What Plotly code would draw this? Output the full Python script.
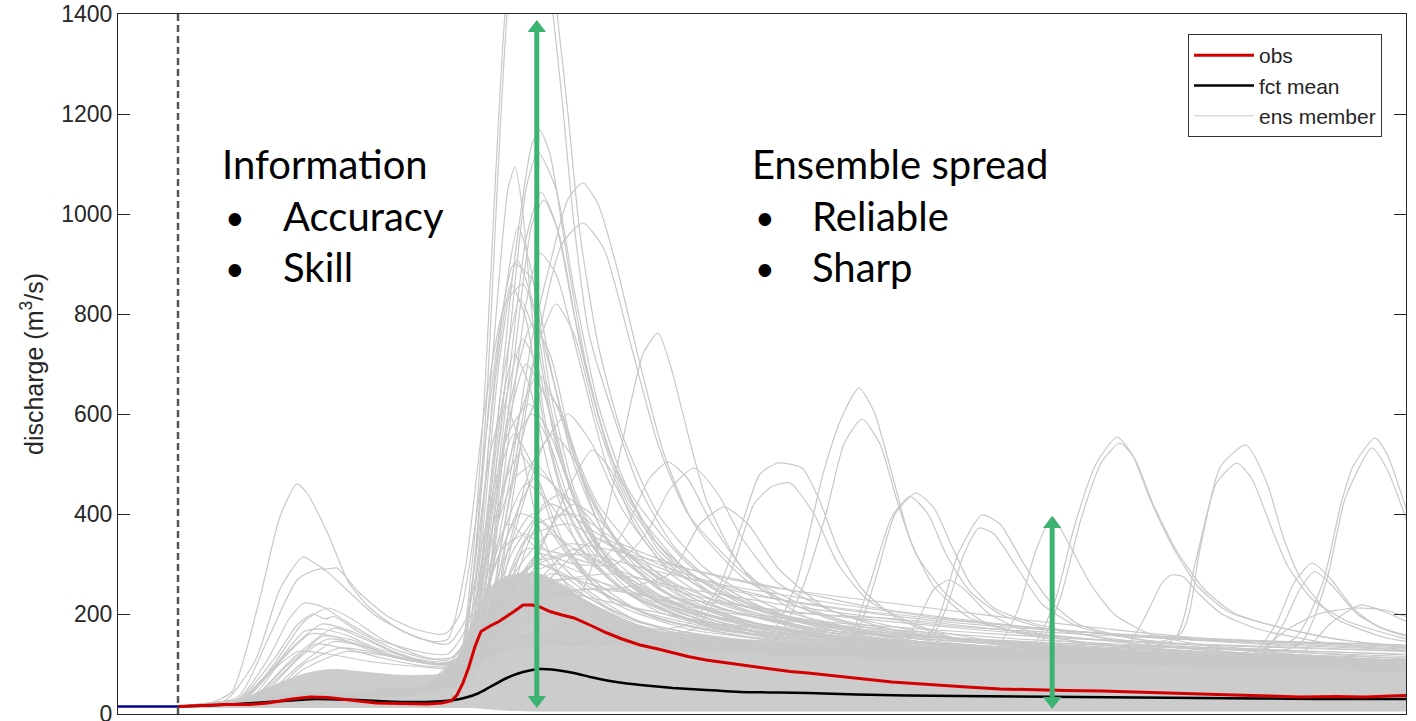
import plotly.graph_objects as go

# ---------------- data (lead time in days, discharge in m3/s) ----------------
forecast_start = 1.0
x_range = [0.0, 21.467]
y_ticks = [0, 200, 400, 600, 800, 1000, 1200, 1400]

hist_t = [0.0, 1.0]
hist_q = [15, 15]

obs_t = [1.0, 1.5, 1.8, 2.2, 2.5, 2.9, 3.2, 3.5, 3.75, 4.0, 4.3, 4.7, 5.15, 5.4, 5.55, 5.65,
         5.75, 5.85, 5.95, 6.05, 6.2, 6.35, 6.5, 6.6, 6.75, 6.9, 7.03, 7.2, 7.4, 7.6, 7.9,
         8.15, 8.4, 8.7, 9.0, 9.25, 9.5, 9.8, 10.1, 10.4, 10.7, 10.95, 11.2, 11.5, 11.8,
         12.05, 12.3, 12.6, 12.9, 13.15, 13.6, 14.15, 14.7, 15.25, 15.8, 16.4, 16.9, 17.5,
         18.0, 18.6, 19.2, 19.7, 20.3, 20.8, 21.2, 21.47]
obs_q = [15, 17, 19, 19, 22, 30, 34, 33, 30, 27, 22, 21, 20, 22, 26, 38,
         62, 95, 135, 165, 176, 185, 196, 205, 218, 218, 214, 205, 198, 192, 176,
         162, 150, 138, 130, 122, 115, 108, 103, 98, 92, 88, 85, 82, 78,
         74, 71, 68, 64, 62, 58, 54, 50, 48, 47, 46, 44, 41,
         39, 38, 36, 34, 35, 34, 36, 37]

mean_t = [1.0, 1.5, 2.0, 2.5, 3.0, 3.3, 3.7, 4.0, 4.5, 4.9, 5.3, 5.6, 5.8, 6.0, 6.2, 6.48,
          6.75, 7.03, 7.3, 7.6, 7.87, 8.15, 8.42, 8.8, 9.25, 9.8, 10.37, 11.0, 11.5, 12.3,
          13.15, 14.0, 15.0, 16.0, 17.0, 18.0, 19.0, 20.0, 21.0, 21.47]
mean_q = [15, 17, 20, 24, 28, 30, 29, 28, 25, 24, 25, 28, 33, 41, 54, 72,
          84, 90, 88, 82, 74, 67, 62, 57, 52, 48, 44, 43, 42, 39,
          37, 36, 35, 34, 33, 32, 31, 30, 30, 30]

# dense core of the ensemble (where the members overlap completely)
core_t = [1.0, 1.5, 2.0, 2.4, 2.8, 3.2, 3.6, 4.0, 4.5, 5.0, 5.5, 5.7, 5.9, 6.1, 6.3, 6.6,
          7.0, 7.4, 7.8, 8.3, 8.8, 9.5, 10.2, 11.0, 12.0, 13.0, 14.0, 15.0, 16.0, 17.0,
          18.0, 19.0, 20.0, 21.0, 21.47]
core_low = [13, 12, 12, 12, 12, 12, 12, 12, 12, 12, 12, 12, 12, 10, 8, 6,
            5, 5, 5, 5, 5, 5, 5, 5, 5, 5, 5, 5, 5, 5,
            5, 5, 5, 5, 5]
core_high = [16, 20, 28, 48, 68, 84, 90, 86, 80, 78, 86, 125, 185, 235, 265, 280,
             280, 258, 228, 198, 172, 160, 152, 146, 138, 132, 126, 122, 118, 116,
             114, 112, 110, 110, 110]

# individual ensemble members: (lead time, discharge) keypoints
first_bump_members = [
    [(1, 15), (1.5, 20), (1.9, 45), (2.35, 225), (2.7, 395), (2.98, 460), (3.15, 442), (3.5, 360),
     (3.85, 262), (4.2, 212), (4.7, 168), (5.25, 145), (5.5, 150), (5.8, 300), (6.1, 600),
     (6.45, 820), (6.75, 860), (7.05, 760), (7.5, 560), (8.0, 420), (9.0, 280), (10.0, 215),
     (12.0, 155), (14.0, 125), (17.0, 105), (21.47, 88)],
    [(1, 15), (1.8, 28), (2.3, 110), (2.7, 250), (3.08, 314), (3.3, 300), (3.45, 290), (3.65, 292),
     (4.0, 245), (4.5, 195), (5.0, 168), (5.45, 160), (5.7, 200), (6.0, 420), (6.3, 720),
     (6.6, 900), (6.9, 870), (7.2, 700), (7.6, 500), (8.2, 340), (9.2, 240), (10.5, 185),
     (13, 140), (16, 115), (21.47, 92)],
    [(1, 15), (2, 34), (2.5, 150), (3.0, 270), (3.4, 290), (3.8, 250), (4.3, 196), (5.0, 152),
     (5.5, 140), (5.8, 190), (6.1, 360), (6.5, 560), (6.85, 620), (7.2, 560), (7.7, 400),
     (8.3, 290), (9.5, 210), (11, 165), (14, 130), (21.47, 95)],
    [(1, 15), (2, 30), (2.5, 110), (2.85, 190), (3.1, 222), (3.4, 215), (3.8, 185), (4.3, 150),
     (5.0, 125), (5.5, 120), (5.8, 170), (6.2, 330), (6.6, 470), (6.95, 500), (7.3, 450),
     (7.8, 340), (8.5, 250), (9.5, 190), (11, 150), (14, 120), (21.47, 90)],
    [(1, 15), (2.1, 30), (2.6, 100), (3.1, 185), (3.5, 212), (3.9, 190), (4.4, 150), (5.0, 118),
     (5.5, 108), (5.9, 160), (6.3, 300), (6.7, 400), (7.1, 380), (7.6, 300), (8.3, 220),
     (9.5, 170), (12, 135), (21.47, 88)],
    [(1, 15), (2.0, 28), (2.6, 110), (3.0, 180), (3.25, 200), (3.45, 190), (3.6, 195), (4.0, 165),
     (4.6, 130), (5.2, 110), (5.6, 115), (6.0, 200), (6.4, 330), (6.8, 360), (7.2, 320),
     (7.8, 250), (8.6, 190), (10, 150), (13, 120), (21.47, 85)],
    [(1, 15), (2.2, 30), (2.8, 120), (3.4, 180), (3.9, 165), (4.5, 130), (5.1, 105), (5.6, 100),
     (6.0, 150), (6.5, 260), (7.0, 300), (7.5, 270), (8.2, 210), (9.2, 165), (11, 135),
     (15, 110), (21.47, 85)],
    [(1, 15), (2.2, 28), (2.9, 110), (3.6, 172), (4.1, 150), (4.7, 118), (5.3, 100), (5.7, 105),
     (6.1, 170), (6.6, 230), (7.1, 240), (7.7, 205), (8.5, 170), (10, 135), (13, 115), (21.47, 85)],
    [(1, 15), (2.1, 28), (2.7, 105), (3.2, 160), (3.6, 155), (4.2, 128), (4.8, 108), (5.4, 98),
     (5.8, 110), (6.2, 190), (6.7, 270), (7.3, 260), (8.0, 210), (9, 165), (11, 135), (21.47, 90)],
    [(1, 15), (2.3, 28), (3.0, 110), (3.5, 150), (4.0, 140), (4.6, 115), (5.2, 100), (5.6, 100),
     (6.0, 140), (6.5, 200), (7.0, 215), (7.6, 190), (8.5, 155), (10, 130), (21.47, 90)],
    [(1, 15), (2.2, 26), (2.8, 95), (3.3, 140), (3.8, 130), (4.4, 112), (5.0, 98), (5.6, 95),
     (6.0, 120), (6.6, 180), (7.2, 190), (8, 160), (10, 125), (21.47, 88)],
    [(1, 15), (2.4, 26), (3.1, 100), (3.7, 132), (4.2, 125), (4.8, 108), (5.4, 100), (5.8, 115),
     (6.3, 170), (7.0, 200), (7.7, 180), (9, 140), (21.47, 90)],
    [(1, 15), (2.0, 24), (2.6, 90), (3.0, 125), (3.5, 120), (4.2, 105), (5.0, 95), (5.6, 92),
     (6.0, 130), (6.6, 210), (7.2, 230), (8.0, 190), (9.5, 150), (21.47, 92)],
    [(1, 15), (2.2, 25), (2.9, 100), (3.4, 155), (3.9, 148), (4.5, 120), (5.1, 105), (5.6, 100),
     (6.0, 140), (6.6, 220), (7.3, 240), (8.2, 190), (10, 140), (21.47, 90)],
    [(1, 15), (2.3, 24), (3.0, 95), (3.6, 145), (4.1, 135), (4.7, 112), (5.3, 100), (5.7, 108),
     (6.2, 170), (6.9, 250), (7.6, 235), (8.6, 180), (11, 135), (21.47, 88)],
    [(1, 15), (2.0, 26), (2.6, 95), (3.1, 165), (3.4, 170), (3.8, 158), (4.3, 132), (4.9, 112),
     (5.5, 104), (5.9, 130), (6.4, 240), (7.0, 280), (7.7, 240), (8.8, 180), (11, 140), (21.47, 92)],
    [(1, 15), (2.4, 25), (3.1, 90), (3.8, 125), (4.4, 118), (5.0, 105), (5.6, 100), (6.0, 125),
     (6.6, 190), (7.3, 200), (8.3, 170), (10, 135), (21.47, 90)],
]

main_peak_members = [
    [(1, 15), (3, 40), (5, 55), (5.6, 70), (5.9, 300), (6.1, 620), (6.45, 1400), (6.8, 1750),
     (7.05, 1600), (7.25, 1400), (7.4, 1230), (7.6, 980), (7.85, 760), (8.25, 600), (8.7, 450),
     (9.3, 330), (10.2, 240), (12, 165), (15, 120), (21.47, 92)],
    [(1, 15), (3, 35), (5, 50), (5.65, 70), (5.95, 320), (6.15, 640), (6.5, 1420), (6.85, 1700),
     (7.1, 1600), (7.32, 1400), (7.5, 1200), (7.7, 960), (8.0, 740), (8.4, 560), (9.0, 400),
     (9.8, 290), (11, 210), (13, 155), (16, 120), (21.47, 95)],
    [(1, 15), (3, 38), (5, 48), (5.7, 80), (6.0, 250), (6.3, 550), (6.6, 900), (6.9, 1140),
     (7.03, 1168), (7.2, 1120), (7.5, 900), (7.8, 700), (8.2, 520), (9.0, 330), (10, 235),
     (12, 165), (15, 122), (21.47, 92)],
    [(1, 15), (3, 36), (5, 45), (5.75, 70), (6.0, 200), (6.4, 600), (6.8, 1050), (7.0, 1124),
     (7.3, 1050), (7.6, 850), (8.0, 620), (8.5, 450), (9.5, 300), (11, 200), (14, 135), (21.47, 95)],
    [(1, 15), (3, 40), (5, 50), (5.6, 60), (5.9, 250), (6.2, 650), (6.5, 1050), (6.62, 1094),
     (6.75, 1000), (6.9, 800), (7.1, 600), (7.4, 450), (8, 320), (9, 235), (10, 185), (13, 135),
     (21.47, 95)],
    [(1, 15), (3, 35), (5, 45), (5.8, 80), (6.0, 150), (6.5, 450), (6.9, 750), (7.2, 900),
     (7.5, 1030), (7.75, 1062), (8.0, 1020), (8.3, 900), (8.7, 700), (9.1, 520), (9.6, 380),
     (10.5, 265), (12, 185), (15, 135), (21.47, 98)],
    [(1, 15), (3, 33), (5, 42), (5.9, 70), (6.2, 150), (6.6, 450), (7.0, 750), (7.4, 940),
     (7.75, 982), (8.1, 930), (8.5, 760), (9.0, 540), (9.5, 400), (10.5, 275), (12, 190),
     (15, 138), (21.47, 100)],
    [(1, 15), (3, 36), (5, 46), (5.7, 70), (6.0, 200), (6.4, 550), (6.8, 950), (7.05, 1044),
     (7.3, 980), (7.6, 800), (8.0, 600), (8.5, 430), (9.5, 285), (11, 195), (14, 135), (21.47, 95)],
    [(1, 15), (3, 34), (5, 44), (5.8, 70), (6.1, 200), (6.5, 600), (6.9, 980), (7.1, 1028),
     (7.35, 960), (7.7, 740), (8.2, 520), (9, 340), (10, 245), (12, 170), (21.47, 92)],
    [(1, 15), (3, 40), (5, 52), (5.7, 80), (6.0, 300), (6.3, 700), (6.67, 974), (6.9, 880),
     (7.2, 650), (7.6, 450), (8.2, 300), (9, 225), (11, 155), (21.47, 90)],
    [(1, 15), (3, 35), (5, 45), (6.0, 150), (6.4, 450), (6.8, 820), (7.03, 922), (7.3, 880),
     (7.7, 700), (8.2, 480), (9, 320), (10, 230), (12, 160), (21.47, 90)],
    [(1, 15), (3, 38), (5, 50), (5.75, 90), (6.05, 330), (6.35, 700), (6.65, 908), (6.9, 830),
     (7.2, 620), (7.6, 430), (8.2, 290), (9.2, 210), (11, 150), (21.47, 88)],
    [(1, 15), (3, 36), (5, 48), (5.7, 85), (6.0, 320), (6.3, 680), (6.55, 860), (6.8, 790),
     (7.1, 580), (7.5, 400), (8.1, 280), (9, 205), (11, 150), (21.47, 88)],
    [(1, 15), (3, 35), (5, 46), (5.8, 80), (6.1, 250), (6.5, 600), (6.9, 780), (7.2, 720),
     (7.6, 520), (8.1, 360), (9, 250), (10.5, 180), (13, 135), (21.47, 92)],
    [(1, 15), (3, 34), (5, 45), (5.8, 90), (6.1, 320), (6.4, 620), (6.6, 720), (6.85, 660),
     (7.2, 480), (7.7, 330), (8.5, 240), (10, 170), (21.47, 90)],
    [(1, 15), (3, 33), (5, 44), (5.9, 100), (6.2, 330), (6.5, 580), (6.8, 700), (7.1, 640),
     (7.5, 470), (8.0, 340), (9.0, 240), (10.5, 175), (14, 125), (21.47, 92)],
    [(1, 15), (3, 32), (5, 42), (6.0, 110), (6.4, 350), (6.8, 580), (7.1, 650), (7.4, 600),
     (7.8, 460), (8.4, 330), (9.5, 230), (11, 170), (15, 125), (21.47, 95)],
    [(1, 15), (3, 34), (5, 45), (5.9, 100), (6.3, 380), (6.6, 540), (6.9, 600), (7.2, 540),
     (7.6, 400), (8.2, 290), (9.2, 210), (11, 155), (21.47, 90)],
    [(1, 15), (3, 32), (5, 42), (6.0, 100), (6.5, 330), (6.9, 500), (7.25, 560), (7.6, 510),
     (8.0, 400), (8.6, 300), (9.6, 220), (11.5, 160), (21.47, 92)],
    [(1, 15), (3, 36), (5, 48), (5.8, 100), (6.2, 350), (6.5, 480), (6.7, 520), (7.0, 470),
     (7.4, 350), (8.0, 250), (9, 190), (11, 145), (21.47, 88)],
    [(1, 15), (3, 33), (5, 44), (6.0, 110), (6.5, 360), (7.0, 480), (7.4, 440), (7.9, 340),
     (8.6, 250), (9.8, 185), (12, 145), (21.47, 92)],
    [(1, 15), (3, 32), (5, 42), (6.1, 110), (6.7, 320), (7.1, 420), (7.4, 440), (7.8, 400),
     (8.4, 310), (9.3, 230), (10.8, 175), (14, 135), (21.47, 100)],
    [(1, 15), (3, 34), (5, 45), (5.9, 100), (6.4, 300), (6.9, 400), (7.3, 360), (7.9, 270),
     (8.8, 200), (10.5, 155), (21.47, 90)],
    [(1, 15), (3, 32), (5, 43), (6.0, 100), (6.6, 280), (7.2, 360), (7.7, 320), (8.4, 250),
     (9.5, 190), (12, 145), (21.47, 95)],
    [(1, 15), (3, 31), (5, 40), (6.2, 100), (6.9, 250), (7.6, 330), (8.2, 290), (9, 230),
     (10.5, 180), (13, 145), (21.47, 105)],
    [(1, 15), (3, 38), (5, 50), (5.6, 70), (5.9, 260), (6.2, 520), (6.45, 620), (6.7, 540),
     (7.0, 380), (7.4, 270), (8, 200), (9.5, 150), (21.47, 85)],
    [(1, 15), (3, 34), (5, 44), (6.0, 120), (6.5, 420), (6.95, 720), (7.3, 820), (7.6, 760),
     (8.0, 580), (8.5, 420), (9.3, 300), (10.5, 215), (13, 155), (21.47, 100)],
    [(1, 15), (3, 36), (5, 46), (5.8, 90), (6.1, 300), (6.45, 620), (6.75, 750), (7.0, 690),
     (7.4, 500), (7.9, 350), (8.8, 240), (10.5, 170), (21.47, 90)],
    [(1, 15), (3, 35), (5, 45), (5.9, 100), (6.3, 360), (6.7, 600), (7.0, 680), (7.3, 620),
     (7.8, 450), (8.5, 320), (9.6, 230), (12, 160), (21.47, 95)],
    [(1, 15), (3, 36), (5, 47), (5.8, 100), (6.1, 330), (6.4, 500), (6.6, 560), (6.9, 500),
     (7.3, 360), (8.0, 250), (9.2, 185), (12, 140), (21.47, 88)],
    [(1, 15), (3, 34), (5, 44), (5.9, 100), (6.3, 320), (6.8, 460), (7.2, 420), (7.8, 320),
     (8.6, 235), (10, 175), (21.47, 90)],
    [(1, 15), (3, 33), (5, 43), (6.2, 120), (6.8, 280), (7.3, 390), (7.6, 420), (8.0, 390),
     (8.7, 300), (9.8, 220), (12, 165), (21.47, 100)],
    [(1, 15), (3, 36), (5, 46), (5.8, 100), (6.2, 300), (6.5, 380), (6.9, 340), (7.5, 260),
     (8.5, 190), (10.5, 145), (21.47, 85)],
    [(1, 15), (3, 33), (5, 43), (6.4, 130), (7.2, 270), (7.7, 330), (8.0, 350), (8.5, 320),
     (9.3, 260), (10.5, 205), (13, 160), (21.47, 105)],
    [(1, 15), (3, 34), (5, 44), (6.1, 130), (6.6, 360), (7.1, 540), (7.5, 600), (7.9, 540),
     (8.4, 410), (9.1, 300), (10.3, 220), (13, 160), (21.47, 98)],
    [(1, 15), (3, 37), (5, 48), (5.75, 85), (6.05, 300), (6.4, 660), (6.7, 830), (6.95, 760),
     (7.3, 540), (7.8, 370), (8.6, 260), (10, 190), (13, 140), (21.47, 90)],
    [(1, 15), (3, 34), (5, 45), (6.0, 120), (6.5, 250), (7.0, 300), (7.6, 270), (8.6, 210),
     (10, 170), (14, 130), (21.47, 95)],
]

late_peak_members = [
    [(1, 15), (3, 38), (5, 48), (6.5, 170), (7.2, 200), (7.6, 215), (8.0, 330), (8.4, 540),
     (8.75, 720), (9.0, 762), (9.2, 700), (9.5, 560), (9.8, 430), (10.2, 330), (10.6, 262),
     (11.5, 192), (13, 150), (16, 120), (21.47, 96)],
    [(1, 15), (3, 35), (5, 45), (6.5, 160), (7.5, 180), (8.5, 165), (9.5, 180), (10.0, 250),
     (10.4, 380), (10.7, 480), (11.0, 502), (11.4, 492), (11.7, 425), (12.0, 330), (12.4, 250),
     (13, 190), (14, 150), (16, 122), (21.47, 96)],
    [(1, 15), (3, 34), (5, 44), (6.5, 150), (7.5, 170), (8.5, 160), (9.6, 170), (10.2, 280),
     (10.6, 420), (10.9, 455), (11.2, 462), (11.6, 400), (12, 300), (12.5, 228), (13.5, 170),
     (16, 126), (21.47, 95)],
    [(1, 15), (3, 36), (5, 46), (6.5, 150), (7.5, 170), (9, 155), (10.8, 150), (11.3, 260),
     (11.75, 480), (12.05, 590), (12.35, 652), (12.6, 605), (12.9, 480), (13.2, 350),
     (13.6, 255), (14.2, 192), (15.5, 150), (18, 122), (21.47, 100)],
    [(1, 15), (3, 35), (5, 45), (6.5, 145), (7.5, 165), (9, 150), (10.9, 140), (11.4, 250),
     (11.8, 400), (12.1, 540), (12.4, 590), (12.7, 540), (13.0, 420), (13.3, 320), (13.8, 240),
     (14.5, 180), (16, 145), (21.47, 100)],
    [(1, 15), (3, 34), (5, 44), (6.5, 140), (8, 160), (10, 140), (12.2, 145), (12.6, 260),
     (12.95, 400), (13.3, 442), (13.6, 412), (13.9, 335), (14.2, 262), (14.6, 212), (15.3, 180),
     (17, 140), (21.47, 100)],
    [(1, 15), (3, 33), (5, 43), (6.5, 140), (8, 150), (10, 135), (12.1, 140), (12.5, 250),
     (12.9, 395), (13.2, 435), (13.5, 400), (13.8, 320), (14.2, 245), (14.7, 200), (15.5, 170),
     (18, 130), (21.47, 98)],
    [(1, 15), (3, 34), (5, 44), (6.5, 140), (8, 150), (10, 135), (12, 125), (13.3, 120),
     (13.7, 200), (14.0, 320), (14.4, 398), (14.7, 380), (15.1, 300), (15.5, 230), (16, 180),
     (17, 150), (21.47, 110)],
    [(1, 15), (3, 33), (5, 43), (6.5, 135), (8, 145), (10, 130), (12, 122), (13.4, 125),
     (13.8, 210), (14.1, 320), (14.35, 372), (14.6, 360), (15.0, 290), (15.4, 220), (16, 175),
     (17.5, 140), (21.47, 105)],
    [(1, 15), (3, 35), (5, 45), (6.5, 140), (8, 150), (10, 135), (12, 125), (14.6, 130),
     (15.0, 208), (15.3, 328), (15.57, 394), (15.85, 340), (16.2, 262), (16.6, 200), (17.2, 160),
     (18.5, 130), (21.47, 105)],
    [(1, 15), (3, 36), (5, 46), (6.5, 150), (8, 160), (10, 140), (12, 128), (14, 120), (15.2, 130),
     (15.6, 220), (15.95, 380), (16.3, 500), (16.65, 554), (16.9, 520), (17.2, 430), (17.6, 330),
     (18.0, 255), (18.5, 205), (19.3, 175), (20.3, 150), (21.47, 134)],
    [(1, 15), (3, 35), (5, 45), (6.5, 145), (8, 155), (10, 138), (12, 126), (14, 118), (15.3, 130),
     (15.7, 230), (16.05, 390), (16.4, 505), (16.7, 542), (16.95, 510), (17.25, 420),
     (17.65, 325), (18.1, 250), (18.6, 202), (19.4, 172), (20.4, 148), (21.47, 132)],
    [(1, 15), (3, 34), (5, 44), (6.5, 140), (8, 150), (10, 135), (12, 125), (15, 120), (17.7, 160),
     (18.03, 328), (18.37, 494), (18.8, 538), (19.15, 462), (19.42, 354), (19.7, 274),
     (20.25, 194), (21.08, 154), (21.47, 145)],
    [(1, 15), (3, 33), (5, 43), (6.5, 135), (8, 145), (10, 130), (12, 122), (15, 115), (17.6, 150),
     (17.95, 300), (18.3, 460), (18.65, 502), (18.9, 470), (19.2, 380), (19.5, 295), (19.9, 230),
     (20.5, 185), (21.47, 150)],
    [(1, 15), (3, 34), (5, 44), (6.5, 140), (8, 150), (10, 135), (12, 125), (15, 118), (18, 110),
     (19.6, 150), (20.08, 262), (20.37, 414), (20.58, 494), (20.95, 552), (21.15, 520), (21.47, 410)],
    [(1, 15), (3, 33), (5, 43), (6.5, 135), (8, 145), (10, 130), (12, 122), (15, 115), (18, 108),
     (19.7, 140), (20.15, 270), (20.45, 430), (20.9, 532), (21.15, 490), (21.47, 390)],
    [(1, 15), (3, 32), (5, 42), (6.5, 130), (8, 140), (10, 125), (12, 118), (14, 112), (16.7, 120),
     (17.1, 190), (17.4, 262), (17.55, 278), (17.75, 275), (18.0, 242), (18.4, 200), (19, 170),
     (20, 145), (21.47, 125)],
    [(1, 15), (3, 33), (5, 43), (6.5, 135), (8, 145), (10, 128), (12, 120), (15, 112), (18.9, 120),
     (19.3, 180), (19.6, 262), (19.9, 302), (20.2, 272), (20.6, 210), (21.0, 175), (21.47, 158)],
    [(1, 15), (3, 32), (5, 42), (6.5, 130), (8, 140), (10, 126), (12, 118), (15, 110), (19.0, 115),
     (19.4, 175), (19.7, 250), (19.95, 285), (20.25, 255), (20.65, 200), (21.1, 170), (21.47, 155)],
    [(1, 15), (3, 34), (5, 44), (6.5, 140), (8, 150), (10, 135), (12, 122), (12.9, 112),
     (13.3, 180), (13.6, 250), (13.85, 268), (14.1, 250), (14.5, 202), (15, 172), (16, 145),
     (18, 125), (21.47, 112)],
    [(1, 15), (3, 32), (5, 42), (6.5, 130), (8, 140), (10, 125), (13, 115), (16, 108), (19.6, 110),
     (20.2, 180), (20.7, 218), (21.1, 205), (21.47, 185)],
    [(1, 15), (3, 33), (5, 43), (6.5, 135), (8, 145), (10, 128), (13, 116), (16, 108), (18.8, 110),
     (19.5, 170), (20.0, 200), (20.6, 212), (21.1, 208), (21.47, 195)],
    [(1, 15), (3, 36), (5, 46), (6.2, 200), (6.8, 330), (7.4, 320), (8.0, 300), (8.5, 380),
     (8.85, 470), (9.17, 504), (9.5, 470), (9.9, 380), (10.4, 292), (11, 232), (12.5, 172),
     (15, 136), (21.47, 100)],
    [(1, 15), (3, 34), (5, 44), (6.3, 200), (7.0, 320), (7.6, 300), (8.3, 300), (8.8, 360),
     (9.2, 450), (9.6, 492), (10.0, 440), (10.4, 352), (11, 262), (12, 202), (14, 152), (21.47, 105)],
    [(1, 15), (3, 35), (5, 45), (6.4, 200), (7.2, 280), (8.2, 250), (9.2, 280), (9.7, 380),
     (10.1, 414), (10.5, 380), (11, 292), (11.8, 212), (13, 166), (16, 130), (21.47, 100)],
    [(1, 15), (3, 34), (5, 44), (6.0, 110), (6.6, 250), (7.0, 320), (7.5, 450), (7.9, 528),
     (8.2, 490), (8.6, 380), (9.2, 282), (10, 222), (12, 160), (21.47, 95)],
]

slow_decay_members = [
    [(1, 15), (3, 36), (5, 46), (6.0, 150), (6.6, 330), (7.2, 420), (8, 360), (9, 300), (10, 260),
     (11, 230), (12, 210), (13, 195), (14, 182), (15, 172), (16, 165), (17, 158), (18, 152),
     (19, 147), (20, 143), (21.47, 138)],
    [(1, 15), (3, 35), (5, 45), (6.2, 160), (6.9, 300), (7.6, 320), (8.5, 280), (9.5, 240),
     (11, 205), (13, 190), (15, 165), (17, 140), (19, 120), (21.47, 108)],
    [(1, 15), (3, 34), (5, 44), (6.3, 150), (7.0, 260), (7.8, 270), (9, 230), (10.5, 200),
     (12, 182), (14, 165), (16, 150), (18, 138), (21.47, 125)],
    [(1, 15), (3, 33), (5, 42), (6.5, 150), (7.3, 240), (8.2, 250), (9.5, 215), (11, 188),
     (13, 168), (15, 150), (17, 138), (19, 130), (21.47, 118)],
    [(1, 15), (3, 35), (5, 45), (6.2, 140), (6.8, 220), (7.5, 240), (8.5, 215), (10, 180),
     (12, 162), (14, 150), (17, 135), (21.47, 120)],
    [(1, 15), (3, 36), (5, 46), (6.0, 140), (6.6, 260), (7.3, 300), (8.3, 250), (9.5, 205),
     (11, 175), (13, 158), (16, 140), (21.47, 115)],
    [(1, 15), (3, 34), (5, 44), (6.3, 170), (7.0, 380), (7.6, 400), (8.4, 340), (9.5, 290),
     (10.8, 255), (12, 235), (13, 220), (14, 205), (15, 190), (16.5, 170), (18, 152), (20, 140),
     (21.47, 132)],
    [(1, 15), (3, 35), (5, 45), (6.1, 160), (6.8, 350), (7.5, 380), (8.3, 330), (9.3, 280),
     (10.5, 240), (12, 212), (13.5, 192), (15, 175), (17, 155), (19, 140), (21.47, 128)],
    [(1, 15), (3, 35), (5, 45), (6.3, 160), (7.0, 300), (7.8, 320), (8.8, 290), (10, 260),
     (11, 240), (12, 220), (13.5, 195), (15, 175), (17, 155), (19, 142), (21.47, 130)],
    [(1, 15), (3, 34), (5, 44), (6.4, 150), (7.2, 260), (8.2, 280), (9.5, 250), (11, 220),
     (12.5, 195), (14, 175), (16, 160), (18, 148), (21.47, 135)],
    [(1, 15), (3, 33), (5, 43), (6.2, 140), (6.9, 230), (7.8, 250), (9, 235), (10.5, 215),
     (12, 195), (14, 172), (16, 152), (18, 140), (20, 132), (21.47, 126)],
    [(1, 15), (3, 35), (5, 45), (6.0, 150), (6.7, 280), (7.5, 340), (8.5, 320), (9.5, 290),
     (10.5, 265), (11.5, 240), (12.5, 215), (14, 190), (16, 165), (18, 150), (21.47, 138)],
]

# double-headed arrows: (lead time, lower tip, upper tip) in discharge units
arrow_info = (6.98, 12, 1388)
arrow_spread = (15.57, 10, 396)

# ---------------- styles ----------------
GRAY = "#c8c8c8"
CORE = "#cccccc"
AX = "#262626"
GREEN = "#3cb371"
TXT_FONT = "Lato, Open Sans, sans-serif"
AX_FONT = "Arial, Liberation Sans, sans-serif"
HEAD = 16                 # arrow head marker size (px)
Q_PER_PX = 1400 / 700     # discharge units per pixel on this figure

fig = go.Figure()

# dense core
fig.add_trace(go.Scatter(x=core_t, y=core_low, mode="lines", line=dict(width=0, shape="spline"),
                         hoverinfo="skip", showlegend=False))
fig.add_trace(go.Scatter(x=core_t, y=core_high, mode="lines", fill="tonexty", fillcolor=CORE,
                         line=dict(width=0, shape="spline"), hoverinfo="skip", showlegend=False))

all_members = first_bump_members + main_peak_members + late_peak_members + slow_decay_members
for i, m in enumerate(all_members):
    fig.add_trace(go.Scatter(
        x=[p[0] for p in m], y=[p[1] for p in m], mode="lines",
        line=dict(color=GRAY, width=1.2, shape="spline", smoothing=0.6),
        name="ens member", legendgroup="g3", legendrank=3,
        showlegend=(i == 0), hoverinfo="skip"))

fig.add_trace(go.Scatter(x=hist_t, y=hist_q, mode="lines", line=dict(color="#00008b", width=2.5),
                         showlegend=False, hoverinfo="skip"))
fig.add_trace(go.Scatter(x=mean_t, y=mean_q, mode="lines", name="fct mean",
                         line=dict(color="black", width=2.5, shape="spline", smoothing=0.5),
                         legendgroup="g2", legendrank=2))
fig.add_trace(go.Scatter(x=obs_t, y=obs_q, mode="lines", name="obs",
                         line=dict(color="#d40000", width=3),
                         legendgroup="g1", legendrank=1))

# forecast issue time
fig.add_shape(type="line", x0=forecast_start, x1=forecast_start, y0=0, y1=1400, xref="x", yref="y",
              line=dict(color="#555555", width=2.5, dash="7px,4px"))

# green double-headed arrows (shaft + triangle heads whose tips sit on the given values)
off = HEAD / 2 * Q_PER_PX
for (ax_t, q0, q1) in (arrow_info, arrow_spread):
    fig.add_trace(go.Scatter(x=[ax_t, ax_t], y=[q0 + off, q1 - off], mode="lines",
                             line=dict(color=GREEN, width=5), showlegend=False, hoverinfo="skip"))
    fig.add_trace(go.Scatter(x=[ax_t, ax_t], y=[q1 - off, q0 + off], mode="markers",
                             marker=dict(symbol=["triangle-up", "triangle-down"], size=HEAD,
                                         color=GREEN, line=dict(width=0)),
                             showlegend=False, hoverinfo="skip"))

def label(text, px, py, size=40):
    fig.add_annotation(x=(px - 118) / 1288, y=(714 - py) / 700, xref="paper", yref="paper",
                       text=text, showarrow=False, xanchor="left", yanchor="middle",
                       font=dict(family=TXT_FONT, size=size, color="black"))

label("Information", 220, 164)
label("•", 223, 216, 34)
label("Accuracy", 281, 216)
label("•", 223, 267, 34)
label("Skill", 281, 267)
label("Ensemble spread", 750, 164)
label("•", 753, 216, 34)
label("Reliable", 810, 216)
label("•", 753, 267, 34)
label("Sharp", 810, 267)

fig.update_layout(
    width=1416, height=721,
    margin=dict(l=118, r=10, t=14, b=7),
    paper_bgcolor="white", plot_bgcolor="white",
    showlegend=True,
    legend=dict(x=(1188 - 118) / 1288, y=(714 - 34) / 700, xanchor="left", yanchor="top",
                bgcolor="white", bordercolor="#333333", borderwidth=1,
                font=dict(family=AX_FONT, size=21, color=AX),
                itemwidth=60, traceorder="grouped", tracegroupgap=0),
    xaxis=dict(range=x_range, showgrid=False, zeroline=False, showticklabels=False, ticks="",
               showline=True, linecolor=AX, linewidth=1, mirror=True),
    yaxis=dict(range=[0, 1400], tickvals=y_ticks, showgrid=False, zeroline=False,
               ticks="inside", ticklen=12, tickcolor=AX, tickwidth=1,
               showline=True, linecolor=AX, linewidth=1, mirror="ticks",
               ticklabeloverflow="allow",
               tickfont=dict(family=AX_FONT, size=23, color=AX),
               title=dict(text="discharge (m<sup>3</sup>/s)", standoff=10,
                          font=dict(family=AX_FONT, size=25, color=AX)),
               automargin=False),
)

fig.write_html("out.html", config={"displayModeBar": False},
               post_script="document.body.style.margin='0';document.body.style.overflow='hidden';")
